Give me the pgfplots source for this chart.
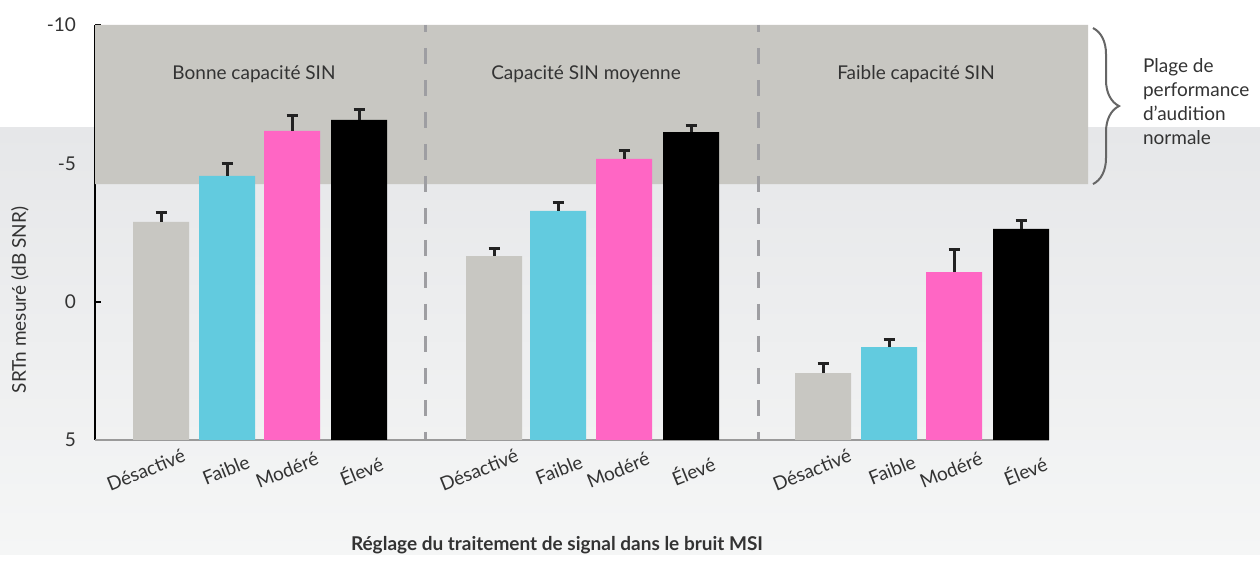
\documentclass[border=0pt]{standalone}
\usepackage{pgfplots}
\pgfplotsset{compat=1.18}
\usepackage{pgfplotstable}
\usepackage{fontspec}
\setmainfont{Lato}
\usetikzlibrary{decorations.pathreplacing}
\definecolor{regiongray}{HTML}{C8C7C2}
\definecolor{barcyan}{HTML}{62CBDF}
\definecolor{barpink}{HTML}{FF66C4}
\definecolor{textc}{HTML}{333333}
\definecolor{errc}{HTML}{222222}
\definecolor{dashc}{HTML}{9E9EA2}
\definecolor{axisgray}{HTML}{9A9A9A}
\definecolor{bandtop}{HTML}{E6E7E9}
\definecolor{bandbot}{HTML}{F5F6F6}
\definecolor{bracec}{HTML}{666666}
\newcommand\f{\fontsize{9.5pt}{12pt}\selectfont}

% x = bar position, v = SRTn (dB SNR), e = error length
\pgfplotstableread{
x v e
161 -2.88 0.33
494 -1.65 0.27
823 2.58 0.36
}\tblD
\pgfplotstableread{
x v e
227 -4.55 0.43
558 -3.28 0.29
889 1.64 0.29
}\tblF
\pgfplotstableread{
x v e
292 -6.17 0.56
624 -5.16 0.29
954 -1.07 0.80
}\tblM
\pgfplotstableread{
x v e
359 -6.57 0.36
691 -6.13 0.22
1021 -2.63 0.32
}\tblE

\pgfplotsset{barst/.style={ybar, bar width=56, bar shift=0pt, draw=none,
  error bars/y dir=plus, error bars/y explicit,
  error bars/error mark=|,
  error bars/error bar style={line width=1.5pt, color=errc},
  error bars/error mark options={line width=1.5pt, mark size=2.75pt, color=errc}}}

\begin{document}
\begin{tikzpicture}
\fill[white] (0pt,0pt) rectangle (630pt,277.5pt);
\shade[top color=bandtop, bottom color=bandbot] (0pt,0pt) rectangle (630pt,213.5pt);
\begin{axis}[
  at={(47.5pt,57.5pt)}, anchor=south west,
  scale only axis, width=496.5pt, height=207.5pt,
  xmin=95, xmax=1088, ymin=0, ymax=15,
  clip=false,
  axis x line*=bottom, axis y line*=left,
  x axis line style={draw=none},
  y axis line style={black, line width=1pt},
  ytick={0,5,10,15}, yticklabels={5,0,-5,-10},
  tick align=inside, major tick length=3pt,
  ytick style={black, line width=1pt},
  xtick={146,226,287,361,479,559,618,693,812,892,951,1025},
  xticklabels={Désactivé,Faible,Modéré,Élevé,Désactivé,Faible,Modéré,Élevé,Désactivé,Faible,Modéré,Élevé},
  xtick style={draw=none},
  ticklabel style={font=\f, text=textc},
  xticklabel style={anchor=center, inner sep=0pt, yshift=-15pt, rotate=22},
  yticklabel style={xshift=-6pt},
]
% normal hearing performance range
\addplot[fill=regiongray, draw=none, forget plot] coordinates {(95,9.25) (1088,9.25) (1088,15) (95,15) (95,9.25)};
\draw[dashc, line width=1.5pt, dash pattern=on 8pt off 8pt, dash phase=4.5pt] (axis cs:425,15) -- (axis cs:425,0);
\draw[dashc, line width=1.5pt, dash pattern=on 8pt off 8pt, dash phase=4.5pt] (axis cs:758,15) -- (axis cs:758,0);
\draw[axisgray, line width=0.8pt] (axis cs:95,0) -- (axis cs:1049,0);

\addplot[barst, fill=regiongray] table[x=x, y expr=5-\thisrow{v}, y error=e] {\tblD};
\addplot[barst, fill=barcyan] table[x=x, y expr=5-\thisrow{v}, y error=e] {\tblF};
\addplot[barst, fill=barpink] table[x=x, y expr=5-\thisrow{v}, y error=e] {\tblM};
\addplot[barst, fill=black] table[x=x, y expr=5-\thisrow{v}, y error=e] {\tblE};

\node[font=\f, text=textc] at (axis cs:254,13.23) {Bonne capacité SIN};
\node[font=\f, text=textc] at (axis cs:586,13.23) {Capacité SIN moyenne};
\node[font=\f, text=textc] at (axis cs:916,13.23) {Faible capacité SIN};

\draw[bracec, line width=1pt, decorate, decoration={brace, amplitude=13pt}] (axis cs:1093,14.89) -- (axis cs:1093,9.25);
\node[font=\f, text=textc, anchor=west, align=left] at (axis cs:1136,12.22) {Plage de\\performance\\d’audition\\normale};
\end{axis}
\node[font=\f, text=textc, rotate=90] at (10pt,127.5pt) {SRTn mesuré (dB SNR)};
\node[font=\f\bfseries, text=textc] at (278.5pt,5pt) {Réglage du traitement de signal dans le bruit MSI};
\end{tikzpicture}
\end{document}
